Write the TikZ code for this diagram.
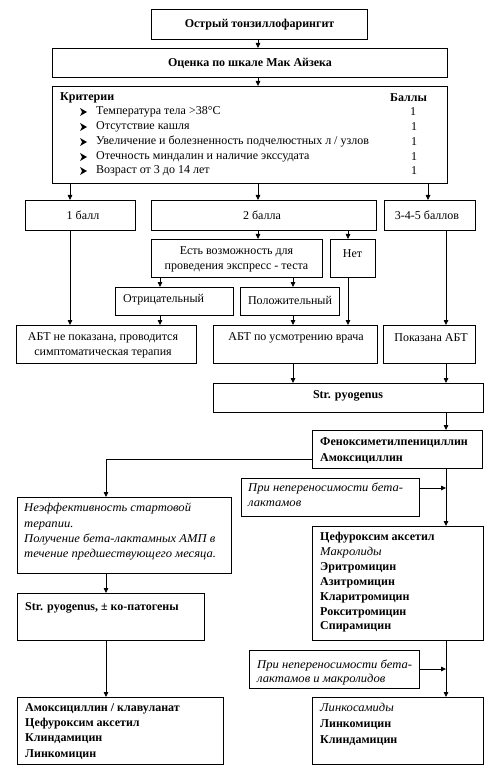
\documentclass[tikz,border=0pt]{standalone}
\usepackage{fontspec}
\setmainfont{Liberation Serif}[ItalicFeatures={FakeStretch=1.05}]
\usetikzlibrary{arrows.meta}
\newcommand{\fs}{\fontsize{12}{15}\selectfont}
\begin{document}
\begin{tikzpicture}[x=1pt,y=-1pt,
  box/.style={draw, line width=1.1pt, rectangle, inner sep=0pt, anchor=north west},
  txt/.style={inner sep=0pt, font=\fs},
  arr/.style={line width=0.8pt, -{Triangle[length=5pt,width=4.5pt]}},
  ln/.style={line width=0.8pt},
  bul/.style={fill=black}
]
\useasboundingbox (0,0) rectangle (490,775);
\fill[white] (0,0) rectangle (490,775);
% x positions
\coordinate (x70) at (70,0);
\coordinate (x106) at (106,0);
\coordinate (x160) at (160,0);
\coordinate (x258) at (258,0);
\coordinate (x293) at (293,0);
\coordinate (x348) at (348,0);
\coordinate (x428) at (428,0);
\coordinate (x446) at (446,0);
\coordinate (y459) at (0,459);
\coordinate (y488) at (0,488);
\coordinate (y669) at (0,669);

% boxes
\node[box, minimum width=216, minimum height=30] (b1) at (151,9) {};
\node[box, minimum width=395, minimum height=29] (b2) at (52,48) {};
\node[box, minimum width=395, minimum height=97] (b3) at (52,86) {};
\node[box, minimum width=110, minimum height=30] (b4) at (25,200) {};
\node[box, minimum width=225, minimum height=30] (b5) at (151,200) {};
\node[box, minimum width=91, minimum height=30] (b6) at (384,200) {};
\node[box, minimum width=171, minimum height=38] (b7) at (151,239) {};
\node[box, minimum width=45, minimum height=38] (b8) at (330,239) {};
\node[box, minimum width=118, minimum height=28] (b9) at (115,287) {};
\node[box, minimum width=99, minimum height=28] (b10) at (240,287) {};
\node[box, minimum width=180, minimum height=38] (b11) at (16,325) {};
\node[box, minimum width=164, minimum height=38] (b12) at (213,325) {};
\node[box, minimum width=92, minimum height=38] (b13) at (383,325) {};
\node[box, minimum width=270, minimum height=29] (b14) at (213,383) {};
\node[box, minimum width=170, minimum height=38] (b15) at (312,430) {};
\node[box, minimum width=178, minimum height=38] (b16) at (241,478) {};
\node[box, minimum width=214, minimum height=76] (b17) at (17,497) {};
\node[box, minimum width=171, minimum height=114] (b18) at (312,526) {};
\node[box, minimum width=187, minimum height=47] (b19) at (17,593) {};
\node[box, minimum width=170, minimum height=38] (b20) at (249,650) {};
\node[box, minimum width=206, minimum height=67] (b21) at (17,697) {};
\node[box, minimum width=171, minimum height=67] (b22) at (312,697) {};

% texts
\node[txt, font=\fs\bfseries] (t1) at (b1.center) {Острый тонзиллофарингит};
\node[txt, font=\fs\bfseries] (t2) at (b2.center) {Оценка по шкале Мак Айзека};
\node[txt, font=\fs\bfseries, anchor=west] (t3a) at (60,98) {Критерии};
\node[txt, font=\fs\bfseries, anchor=west] (t3b) at (390,98) {Баллы};
\node[txt, anchor=west] (c1) at (96,112) {Температура тела >38°С};
\node[txt, anchor=west] (c2) at (96,127) {Отсутствие кашля};
\node[txt, anchor=west] (c3) at (96,142) {Увеличение и болезненность подчелюстных л / узлов};
\node[txt, anchor=west] (c4) at (96,157) {Отечность миндалин и наличие экссудата};
\node[txt, anchor=west] (c5) at (96,171) {Возраст от 3 до 14 лет};
\node[txt] (s1) at (413,112) {1};
\node[txt] (s2) at (414,127) {1};
\node[txt] (s3) at (414,142) {1};
\node[txt] (s4) at (414,157) {1};
\node[txt] (s5) at (414,171) {1};
\foreach \yy in {112,127,142,157,171}{
  \fill[bul] (80,\yy-4) -- (87,\yy) -- (80,\yy+4) -- (82,\yy) -- cycle;
}
\node[txt] (t4) at (83,215) {1 балл};
\node[txt] (t5) at (262,215) {2 балла};
\node[txt] (t6) at (427,215) {3-4-5 баллов};
\node[txt, align=center] (t7) at (236.5,259.5) {Есть возможность для\\проведения экспресс - теста};
\node[txt] (t8) at (352.5,254) {Нет};
\node[txt, anchor=west] (t9) at (123,300) {Отрицательный};
\node[txt] (t10) at (290,300) {Положительный};
\node[txt, align=center] (t11) at (103,345.5) {АБТ не показана, проводится\\симптоматическая терапия};
\node[txt] (t12) at (296,338) {АБТ по усмотрению врача};
\node[txt] (t13) at (431,338) {Показана АБТ};
\node[txt, font=\fs\bfseries] (t14) at (348,396) {Str. pyogenus};
\node[txt, font=\fontsize{12}{16}\selectfont\bfseries, align=left, anchor=north west] (t15) at (320,437) {Феноксиметилпенициллин\\Амоксициллин};
\node[txt, font=\fs\itshape, align=left, anchor=north west] (t16) at (248,483) {При непереносимости бета-\\лактамов};
\node[txt, font=\fontsize{12}{15.3}\selectfont\itshape, align=left, anchor=north west] (t17) at (24,503) {Неэффективность стартовой\\терапии.\\Получение бета-лактамных АМП в\\течение предшествующего месяца.};
\node[txt, font=\fontsize{12}{14.9}\selectfont, align=left, anchor=north west] (t18) at (320,532) {\textbf{Цефуроксим аксетил}\\\textit{Макролиды}\\\textbf{Эритромицин}\\\textbf{Азитромицин}\\\textbf{Кларитромицин}\\\textbf{Рокситромицин}\\\textbf{Спирамицин}};
\node[txt, font=\fs\bfseries, anchor=north west] (t19) at (25,602) {Str. pyogenus, ± ко-патогены};
\node[txt, font=\fontsize{12}{13.5}\selectfont\itshape, align=left, anchor=north west] (t20) at (257,660) {При непереносимости бета-\\лактамов и макролидов};
\node[txt, font=\fontsize{12}{15.3}\selectfont\bfseries, align=left, anchor=north west] (t21) at (25,703) {Амоксициллин / клавуланат\\Цефуроксим аксетил\\Клиндамицин\\Линкомицин};
\node[txt, font=\fontsize{12}{16}\selectfont, align=left, anchor=north west] (t22) at (320,703) {\textit{Линкосамиды}\\\textbf{Линкомицин}\\\textbf{Клиндамицин}};

% connectors
\draw[arr] (b1.south -| x258) -- (b2.north -| x258);
\draw[arr] (b2.south -| x258) -- (b3.north -| x258);
\draw[arr] (b3.south -| x70) -- (b4.north -| x70);
\draw[arr] (b3.south -| x258) -- (b5.north -| x258);
\draw[arr] (b3.south -| x428) -- (b6.north -| x428);
\draw[arr] (b5.south -| x258) -- (b7.north -| x258);
\draw[arr] (b5.south -| x348) -- (b8.north -| x348);
\draw[arr] (b7.south -| x160) -- (b9.north -| x160);
\draw[arr] (b7.south -| x293) -- (b10.north -| x293);
\draw[arr] (b4.south -| x70) -- (b11.north -| x70);
\draw[arr] (b9.south -| x160) -- (b11.north -| x160);
\draw[arr] (b10.south -| x293) -- (b12.north -| x293);
\draw[arr] (b8.south -| x348) -- (b12.north -| x348);
\draw[arr] (b6.south -| x446) -- (b13.north -| x446);
\draw[arr] (b12.south -| x293) -- (b14.north -| x293);
\draw[arr] (b13.south -| x446) -- (b14.north -| x446);
\draw[arr] (b14.south -| x446) -- (b15.north -| x446);
\draw[arr] (b15.west |- y459) -| (b17.north -| x106);
\draw[arr] (b15.south -| x446) -- (b18.north -| x446);
\draw[arr] (b16.east |- y488) -- (x446 |- y488);
\draw[arr] (b17.south -| x106) -- (b19.north -| x106);
\draw[arr] (b19.south -| x106) -- (b21.north -| x106);
\draw[arr] (b18.south -| x446) -- (b22.north -| x446);
\draw[arr] (b20.east |- y669) -- (x446 |- y669);
\end{tikzpicture}
\end{document}
